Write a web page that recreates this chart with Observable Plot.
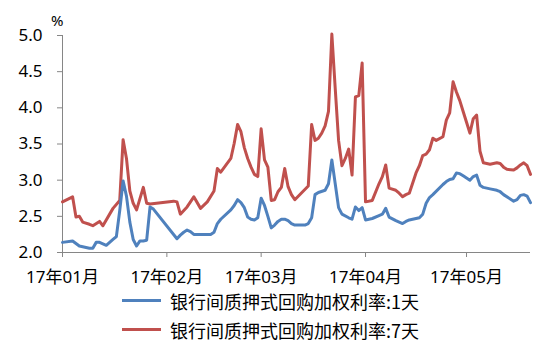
<!DOCTYPE html>
<html><head><meta charset="utf-8">
<script src="https://cdn.jsdelivr.net/npm/d3@7"></script>
<script src="https://cdn.jsdelivr.net/npm/@observablehq/plot@0.6"></script>
<style>
body{margin:0;background:#fff;}
#wrap{position:relative;width:544px;height:355px;font-family:"Noto Sans","Noto Sans CJK SC",sans-serif;color:#000;}
#chart{position:absolute;left:0;top:0;}
#pct{position:absolute;left:51px;top:10px;font-size:15px;}
#legend{position:absolute;left:122px;top:286px;}
.row{display:flex;align-items:center;height:29px;font-size:18px;font-family:"Noto Sans CJK SC","Noto Sans",sans-serif;}
.sw{width:39px;height:3px;margin-right:9px;}
</style></head><body>
<div id="wrap"><div id="chart"></div><div id="pct">%</div><div id="legend"></div></div>
<script>
const seriesNames = ["银行间质押式回购加权利率:1天", "银行间质押式回购加权利率:7天"];
const seriesColors = ["#4F81BD", "#C0504D"];

const dates1 = ["01-01","01-04","01-06","01-09","01-10","01-11","01-12","01-13","01-14","01-15","01-16","01-17","01-18","01-19","01-20","01-21","01-22","01-23","01-24","01-25","01-26","01-27","01-28","02-04","02-05","02-06","02-07","02-08","02-09","02-14","02-15","02-16","02-17","02-20","02-21","02-22","02-23","02-24","02-25","02-26","02-27","02-28","03-01","03-02","03-03","03-04","03-05","03-06","03-07","03-08","03-09","03-10","03-11","03-14","03-15","03-16","03-17","03-18","03-20","03-21","03-22","03-23","03-24","03-25","03-27","03-28","03-29","03-30","03-31","04-01","04-03","04-05","04-06","04-07","04-08","04-10","04-11","04-12","04-13","04-14","04-17","04-18","04-19","04-20","04-21","04-24","04-25","04-26","04-27","04-28","04-29","04-30","05-02","05-03","05-04","05-05","05-06","05-08","05-10","05-11","05-12","05-15","05-16","05-17","05-18","05-19","05-20"];
const values1 = [2.14,2.16,2.09,2.06,2.06,2.14,2.14,2.12,2.10,2.14,2.18,2.22,2.58,2.99,2.78,2.42,2.18,2.09,2.16,2.16,2.17,2.63,2.60,2.19,2.24,2.28,2.31,2.29,2.25,2.25,2.28,2.40,2.46,2.59,2.65,2.73,2.69,2.62,2.49,2.46,2.45,2.48,2.75,2.65,2.50,2.34,2.38,2.43,2.46,2.46,2.44,2.40,2.38,2.38,2.40,2.48,2.80,2.83,2.86,2.95,3.28,2.95,2.62,2.53,2.48,2.46,2.63,2.58,2.62,2.45,2.47,2.51,2.53,2.61,2.49,2.44,2.42,2.40,2.43,2.45,2.48,2.53,2.68,2.76,2.80,2.94,2.98,3.01,3.02,3.10,3.09,3.06,3.00,3.05,3.07,2.93,2.90,2.88,2.86,2.84,2.80,2.71,2.73,2.79,2.80,2.78,2.69];

const dates7 = ["01-01","01-04","01-05","01-06","01-07","01-09","01-10","01-12","01-13","01-16","01-18","01-19","01-20","01-21","01-22","01-23","01-25","01-26","01-27","02-03","02-04","02-05","02-07","02-09","02-11","02-13","02-15","02-16","02-17","02-20","02-21","02-22","02-23","02-24","02-25","02-26","02-27","02-28","03-01","03-02","03-03","03-04","03-05","03-06","03-07","03-08","03-09","03-10","03-11","03-15","03-16","03-17","03-18","03-19","03-20","03-21","03-22","03-23","03-24","03-25","03-26","03-27","03-28","03-29","03-30","03-31","04-01","04-03","04-05","04-06","04-07","04-08","04-10","04-11","04-12","04-13","04-14","04-16","04-17","04-18","04-19","04-20","04-21","04-22","04-24","04-25","04-26","04-27","04-28","04-29","04-30","05-01","05-02","05-03","05-04","05-05","05-06","05-08","05-10","05-11","05-12","05-13","05-15","05-16","05-17","05-18","05-19","05-20"];
const values7 = [2.70,2.77,2.49,2.50,2.42,2.39,2.37,2.43,2.37,2.61,2.72,3.56,3.30,2.85,2.68,2.59,2.90,2.68,2.67,2.71,2.70,2.53,2.63,2.77,2.61,2.70,2.85,3.16,3.11,3.30,3.51,3.77,3.67,3.45,3.30,3.18,3.08,3.05,3.71,3.28,3.18,2.72,2.73,2.84,2.90,3.16,2.91,2.80,2.73,2.92,3.77,3.55,3.58,3.65,3.75,3.95,5.02,4.27,3.55,3.20,3.30,3.43,3.07,4.15,4.17,4.62,2.70,2.72,2.95,3.05,3.21,2.89,2.86,2.82,2.77,2.80,2.82,3.10,3.20,3.34,3.36,3.42,3.58,3.55,3.60,3.83,3.93,4.36,4.22,4.10,3.95,3.80,3.65,3.85,3.90,3.40,3.24,3.22,3.24,3.23,3.18,3.15,3.14,3.17,3.21,3.24,3.20,3.08];

const yTicks = [2.0, 2.5, 3.0, 3.5, 4.0, 4.5, 5.0];
const monthTicks = ["2017-01-01","2017-02-01","2017-03-01","2017-04-01","2017-05-01"];
const monthLabels = ["17年01月","17年02月","17年03月","17年04月","17年05月"];
const xDomain = ["2017-01-01","2017-05-20"];

const parse = s => new Date("2017-" + s + "T00:00:00Z");
const rows = [];
dates7.forEach((d, i) => rows.push({date: parse(d), value: values7[i], series: seriesNames[1]}));
dates1.forEach((d, i) => rows.push({date: parse(d), value: values1[i], series: seriesNames[0]}));

const tickDates = monthTicks.map(s => new Date(s + "T00:00:00Z"));

const chart = Plot.plot({
  width: 544,
  height: 290,
  marginLeft: 62,
  marginRight: 14,
  marginTop: 35,
  marginBottom: 38,
  style: {fontFamily: '"Noto Sans","Noto Sans CJK SC",sans-serif', fontSize: "17px", background: "transparent", color: "#000"},
  x: {type: "utc", domain: xDomain.map(s => new Date(s + "T00:00:00Z"))},
  y: {domain: [2, 5]},
  color: {domain: seriesNames, range: seriesColors},
  marks: [
    Plot.axisY({ticks: yTicks, tickFormat: d3.format(".1f"), tickSize: 5, tickPadding: 15, stroke: "#868686", fill: "#000", fontSize: 17, label: null}),
    Plot.axisX({ticks: tickDates, tickFormat: d => monthLabels[d.getUTCMonth()], tickSize: 5, tickPadding: 13, stroke: "#868686", fill: "#000", fontSize: 17, label: null}),
    Plot.ruleX([new Date(xDomain[0] + "T00:00:00Z")], {stroke: "#868686", strokeWidth: 1}),
    Plot.ruleY([2], {stroke: "#868686", strokeWidth: 1}),
    Plot.line(rows, {x: "date", y: "value", z: "series", stroke: "series", strokeWidth: 3, strokeLinejoin: "round", strokeLinecap: "round"})
  ]
});
document.getElementById("chart").appendChild(chart);

const legend = document.getElementById("legend");
seriesNames.forEach((name, i) => {
  const row = document.createElement("div");
  row.className = "row";
  const sw = document.createElement("span");
  sw.className = "sw";
  sw.style.background = seriesColors[i];
  const t = document.createElement("span");
  t.textContent = name;
  row.appendChild(sw); row.appendChild(t);
  legend.appendChild(row);
});
</script>
</body></html>
